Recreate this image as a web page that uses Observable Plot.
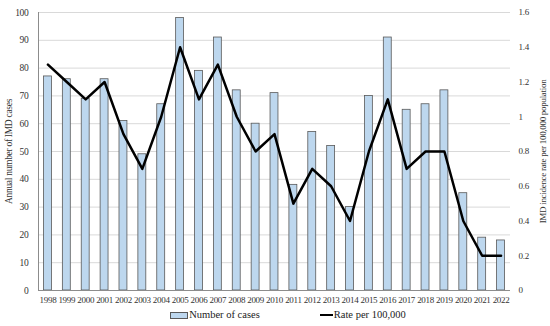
<!DOCTYPE html>
<html><head><meta charset="utf-8">
<script src="https://cdn.jsdelivr.net/npm/d3@7"></script>
<script src="https://cdn.jsdelivr.net/npm/@observablehq/plot@0.6"></script>
<style>
body{margin:0;background:#fff;font-family:"Liberation Serif",serif;width:550px;height:326px;overflow:hidden}
#chart svg{display:block}
#legend{display:flex;justify-content:center;align-items:center;gap:60px;font-size:10.5px;line-height:14px;color:#222;padding-left:26px}
.item{display:flex;align-items:center;gap:1px}
.sw{width:16px;height:5px;background:#bdd7ee;border:1px solid #595959}
.ln{width:13px;height:0;border-top:2.5px solid #000}
</style>
</head><body><div id="chart"></div>
<div id="legend"><div class="item"><span class="sw"></span><span>Number of cases</span></div><div class="item"><span class="ln"></span><span>Rate per 100,000</span></div></div>
<script>
const years = [1998,1999,2000,2001,2002,2003,2004,2005,2006,2007,2008,2009,2010,2011,2012,2013,2014,2015,2016,2017,2018,2019,2020,2021,2022];
const cases = [77,76,69,76,61,49,67,98,79,91,72,60,71,38,57,52,30,70,91,65,67,72,35,19,18];
const rates = [1.3,1.2,1.1,1.2,0.9,0.7,1.0,1.4,1.1,1.3,1.0,0.8,0.9,0.5,0.7,0.6,0.4,0.8,1.1,0.7,0.8,0.8,0.4,0.2,0.2];
const leftTicks = [0,10,20,30,40,50,60,70,80,90,100];
const rightTicks = [0,0.2,0.4,0.6,0.8,1.0,1.2,1.4,1.6];
const leftLabel = "Annual number of IMD cases";
const rightLabel = "IMD incidence rate per 100,000 population";

const data = years.map((y,i)=>({year:String(y), cases:cases[i], rate:rates[i]}));
const k = 100/1.6;
const plot = Plot.plot({
  width:550, height:308, marginTop:12, marginBottom:18, marginLeft:38, marginRight:40,
  style:{fontFamily:"Liberation Serif", fontSize:"9px", color:"#333", background:"#fff", letterSpacing:"-0.3px"},
  x:{type:"band", domain: years.map(String), paddingInner:0.58, paddingOuter:0.29, align:0.5, round:false, label:null},
  y:{domain:[0,100], label:null},
  marks:[
    Plot.gridY(leftTicks,{stroke:"#d9d9d9", strokeOpacity:1}),
    Plot.barY(data,{x:"year", y:"cases", fill:"#bdd7ee", stroke:"#595959", strokeWidth:0.8}),
    Plot.line(data,{x:"year", y:d=>d.rate*k, stroke:"#000", strokeWidth:2.5}),
    Plot.ruleY([0],{stroke:"#8c8c8c"}),
    Plot.frame({anchor:"left", stroke:"#8c8c8c"}),
    Plot.axisY(leftTicks,{anchor:"left", tickSize:0, tickPadding:10, label:leftLabel, labelAnchor:"center", labelArrow:"none", labelOffset:33, fontSize:9.5}),
    Plot.axisY(rightTicks.map(v=>v*k),{anchor:"right", tickSize:0, tickPadding:8, textAnchor:"start", tickFormat:d=>String(+(d/k).toFixed(1)), label:rightLabel, labelAnchor:"center", labelArrow:"none", labelOffset:35}),
    Plot.axisX({tickSize:0, tickPadding:6, label:null})
  ]
});
document.getElementById("chart").append(plot);
</script>
</body></html>
